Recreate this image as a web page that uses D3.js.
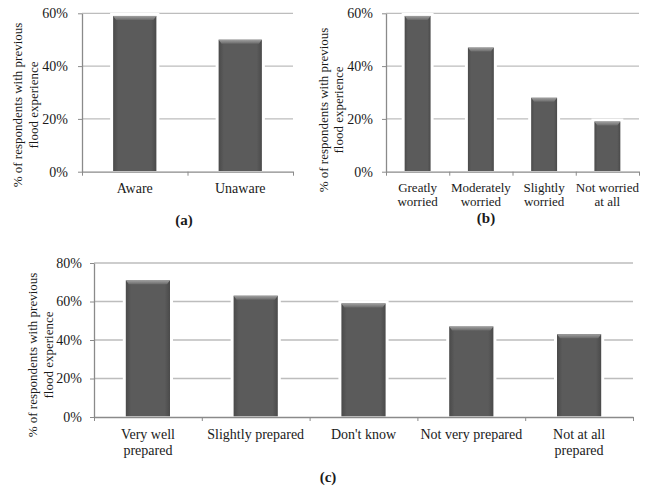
<!DOCTYPE html>
<html>
<head>
<meta charset="utf-8">
<script src="https://cdn.jsdelivr.net/npm/d3@7"></script>
<style>
body { margin: 0; background: #fff; }
text { font-family: "Liberation Serif", "Times New Roman", serif; fill: #1a1a1a; }
</style>
</head>
<body>
<script>
// data
var awareCats = [["Aware"], ["Unaware"]];
var awareVals = [59, 50];

var worryCats = [["Greatly", "worried"], ["Moderately", "worried"], ["Slightly", "worried"], ["Not worried", "at all"]];
var worryVals = [59, 47, 28, 19];

var prepCats = [["Very well", "prepared"], ["Slightly prepared"], ["Don't know"], ["Not very prepared"], ["Not at all", "prepared"]];
var prepVals = [71, 63, 59, 47, 43];

var ticks60 = [0, 20, 40, 60];
var ticks80 = [0, 20, 40, 60, 80];
var yTitle = ["% of respondents with previous", "flood experience"];

var svg = d3.select('body').append('svg')
  .attr('width', 646)
  .attr('height', 487);

var defs = svg.append('defs');
var side = defs.append('linearGradient').attr('id', 'barSide');
side.append('stop').attr('offset', '0%').attr('stop-color', '#4a4a4a');
side.append('stop').attr('offset', '12%').attr('stop-color', '#5b5b5b');
side.append('stop').attr('offset', '88%').attr('stop-color', '#5b5b5b');
side.append('stop').attr('offset', '100%').attr('stop-color', '#4a4a4a');
var bev = defs.append('linearGradient').attr('id', 'barTop')
  .attr('x1', 0).attr('y1', 0).attr('x2', 0).attr('y2', 1);
bev.append('stop').attr('offset', '0%').attr('stop-color', '#a0a0a0');
bev.append('stop').attr('offset', '100%').attr('stop-color', '#6a6a6a');

function drawPanel(p) {
  var g = svg.append('g');
  var n = p.cats.length;
  var idx = d3.range(n);

  var x = d3.scaleBand().domain(idx).range([p.left, p.right])
    .paddingInner(0.59).paddingOuter(0.295);
  var bound = d3.scaleLinear().domain([0, n]).range([p.left, p.right]);
  var y = d3.scaleLinear().domain([0, p.max]).range([p.bottom, p.top]);

  // gridlines
  g.selectAll('.grid').data(p.ticks.slice(1)).enter().append('line')
    .attr('x1', p.left).attr('x2', p.right)
    .attr('y1', d => y(d)).attr('y2', d => y(d))
    .attr('stroke', '#bdbdbd').attr('stroke-width', 1.3);

  // y axis
  var ya = g.append('g').attr('transform', 'translate(' + p.left + ',0)')
    .call(d3.axisLeft(y).tickValues(p.ticks).tickFormat(d => d + '%')
      .tickSize(4).tickSizeOuter(0).tickPadding(p.pad));
  ya.select('.domain').attr('stroke', '#8a8a8a').attr('stroke-width', 1.3);
  ya.selectAll('line').attr('stroke', '#8a8a8a');
  ya.selectAll('text').attr('font-size', 14).style('font-family', '"Liberation Serif", serif').attr('fill', '#1a1a1a');

  // x axis with boundary ticks
  var xa = g.append('g').attr('transform', 'translate(0,' + p.bottom + ')')
    .call(d3.axisBottom(bound).tickValues(d3.range(n + 1)).tickFormat('')
      .tickSize(4).tickSizeOuter(0));
  xa.select('.domain').attr('stroke', '#8a8a8a').attr('stroke-width', 1.3);
  xa.selectAll('line').attr('stroke', '#8a8a8a');

  // bars
  var bars = g.selectAll('.bar').data(p.vals).enter().append('g');
  bars.append('rect')
    .attr('x', (d, i) => x(i) - 3).attr('y', d => y(d) - 3)
    .attr('width', x.bandwidth() + 6).attr('height', d => p.bottom - y(d) + 2)
    .attr('fill', '#fff');
  bars.append('rect')
    .attr('x', (d, i) => x(i)).attr('y', d => y(d))
    .attr('width', x.bandwidth()).attr('height', d => p.bottom - y(d) - 0.7)
    .attr('fill', 'url(#barSide)');
  bars.append('polygon')
    .attr('points', function(d, i) {
      var x0 = x(i), x1 = x(i) + x.bandwidth(), y0 = y(d);
      return [[x0, y0], [x1, y0], [x1 - 3, y0 + 4], [x0 + 3, y0 + 4]].join(' ');
    })
    .attr('fill', 'url(#barTop)');

  // category labels
  var labs = g.selectAll('.cat').data(p.cats).enter().append('text')
    .attr('text-anchor', 'middle')
    .attr('font-size', p.catSize)
    .attr('transform', (d, i) => 'translate(' + (x(i) + x.bandwidth() / 2) + ',' + p.catY + ')');
  labs.selectAll('tspan').data(d => d).enter().append('tspan')
    .attr('x', 0).attr('y', (d, i) => i * p.lineH)
    .text(d => d);

  // y title
  var t = g.append('text')
    .attr('text-anchor', 'middle')
    .attr('font-size', 13)
    .attr('transform', 'translate(' + p.titleX + ',' + p.titleY + ') rotate(-90)');
  t.selectAll('tspan').data(yTitle).enter().append('tspan')
    .attr('x', 0).attr('y', (d, i) => i * p.titleGap)
    .attr('dy', '0.35em')
    .text(d => d);

  // panel letter
  g.append('text')
    .attr('x', p.letterX).attr('y', p.letterY)
    .attr('text-anchor', 'middle')
    .attr('font-size', 15).attr('font-weight', 'bold')
    .text('(' + p.letter + ')');
}

drawPanel({
  cats: awareCats, vals: awareVals, ticks: ticks60, max: 60,
  left: 82, right: 293, top: 13.3, bottom: 171.7, pad: 10,
  catSize: 14, catY: 193, lineH: 15,
  titleX: 17, titleY: 105, titleGap: 16,
  letter: 'a', letterX: 184, letterY: 225
});

drawPanel({
  cats: worryCats, vals: worryVals, ticks: ticks60, max: 60,
  left: 386, right: 639, top: 13.3, bottom: 171.7, pad: 9,
  catSize: 13, catY: 192, lineH: 14,
  titleX: 323, titleY: 110, titleGap: 15,
  letter: 'b', letterX: 486, letterY: 223
});

drawPanel({
  cats: prepCats, vals: prepVals, ticks: ticks80, max: 80,
  left: 94, right: 633, top: 263, bottom: 417, pad: 8,
  catSize: 14, catY: 439, lineH: 16,
  titleX: 32, titleY: 355, titleGap: 16,
  letter: 'c', letterX: 328, letterY: 482
});
</script>
</body>
</html>
